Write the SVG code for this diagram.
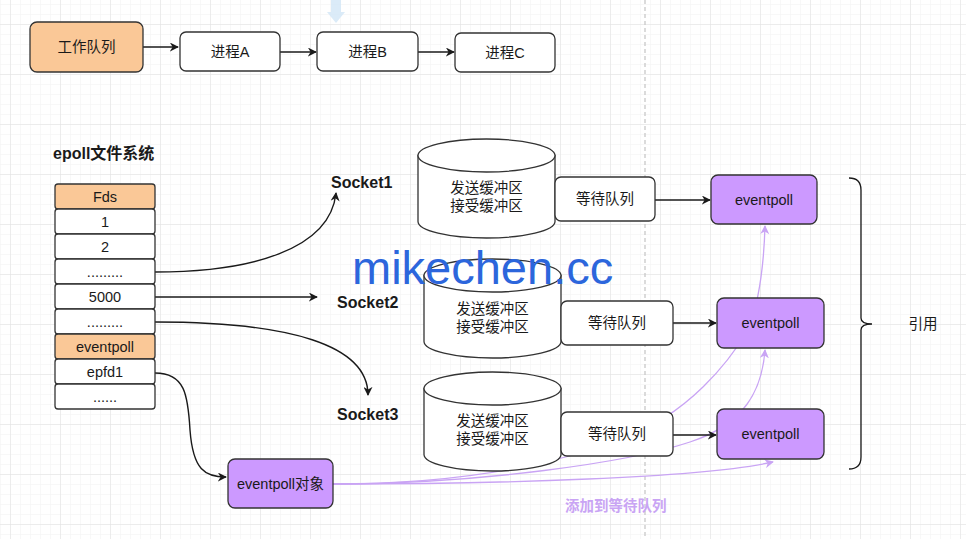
<svg xmlns="http://www.w3.org/2000/svg" width="966" height="539" viewBox="0 0 966 539">
<style>
  text { font-family: "Liberation Sans", "Noto Sans CJK SC", sans-serif; fill: #1a1a1a; }
  .t { font-size: 14.5px; text-anchor: middle; dominant-baseline: central; }
  .lbl { font-size: 16px; font-weight: bold; }
  .box { fill: #ffffff; stroke: #333333; stroke-width: 1.3; }
  .orange { fill: #FAC897; stroke: #333333; stroke-width: 1.3; }
  .purple { fill: #CC99FF; stroke: #333333; stroke-width: 1.3; }
  .edge { fill: none; stroke: #1a1a1a; stroke-width: 1.4; }
  .pedge { fill: none; stroke: #C9A4F4; stroke-width: 1.3; }
</style>
<defs>
  <pattern id="gMinor" width="10" height="10" patternUnits="userSpaceOnUse" x="0" y="4">
    <path d="M10 0 L0 0 L0 10" fill="none" stroke="#f2f2f2" stroke-width="1"/>
  </pattern>
  <pattern id="gMajor" width="50" height="50" patternUnits="userSpaceOnUse" x="10" y="24">
    <path d="M50 0 L0 0 L0 50" fill="none" stroke="#e0e0e0" stroke-width="1"/>
  </pattern>
  <marker id="arr" viewBox="0 0 10 10" refX="9" refY="5" markerWidth="9" markerHeight="9" markerUnits="userSpaceOnUse" orient="auto">
    <path d="M0 0 L10 5 L0 10 L3 5 Z" fill="#1a1a1a"/>
  </marker>
  <marker id="parr" viewBox="0 0 10 10" refX="9" refY="5" markerWidth="9" markerHeight="9" markerUnits="userSpaceOnUse" orient="auto">
    <path d="M0 0 L10 5 L0 10 L3 5 Z" fill="#C9A4F4"/>
  </marker>
</defs>

<!-- background grid -->
<rect x="0" y="0" width="966" height="539" fill="#ffffff"/>
<rect x="0" y="0" width="966" height="539" fill="url(#gMinor)"/>
<rect x="0" y="0" width="966" height="539" fill="url(#gMajor)"/>
<line x1="645" y1="0" x2="645" y2="539" stroke="#c8c8c8" stroke-width="1.3" stroke-dasharray="4 3"/>

<!-- faint blue arrow at top -->
<g id="blue-arrow" opacity="0.85">
  <rect x="331" y="0" width="10" height="12" fill="#d5e8f7"/>
  <polygon points="327,12 345,12 336,23" fill="#d5e8f7"/>
</g>

<!-- purple connectors (behind boxes) -->
<g id="purple-connectors">
  <path class="pedge" d="M333 484 C 470 484, 560 462, 620 440 C 690 414, 730 360, 748 330 C 760 300, 764 260, 765 226" marker-end="url(#parr)"/>
  <path class="pedge" d="M333 484 C 480 484, 630 462, 690 442 C 745 424, 762 390, 765 350" marker-end="url(#parr)"/>
  <path class="pedge" d="M333 484 C 500 484, 700 478, 773 462" marker-end="url(#parr)"/>
</g>

<!-- black connectors -->
<g id="connectors">
  <line class="edge" x1="143" y1="47" x2="178" y2="47" marker-end="url(#arr)"/>
  <line class="edge" x1="280" y1="52" x2="316" y2="52" marker-end="url(#arr)"/>
  <line class="edge" x1="418" y1="52" x2="454" y2="52" marker-end="url(#arr)"/>
  <path class="edge" d="M155 272 C 250 272, 330 250, 336 193" marker-end="url(#arr)"/>
  <line class="edge" x1="155" y1="297" x2="317" y2="297" marker-end="url(#arr)"/>
  <path class="edge" d="M155 322 C 290 322, 368 345, 368 395" marker-end="url(#arr)"/>
  <path class="edge" d="M155 373 C 185 373, 188 395, 190 430 C 193 470, 205 477, 226 477" marker-end="url(#arr)"/>
  <line class="edge" x1="655" y1="200" x2="710" y2="200" marker-end="url(#arr)"/>
  <line class="edge" x1="673" y1="323" x2="716" y2="323" marker-end="url(#arr)"/>
  <line class="edge" x1="673" y1="435" x2="716" y2="435" marker-end="url(#arr)"/>
</g>

<!-- top row -->
<g id="work-queue">
  <rect class="orange" x="30" y="22" width="113" height="50" rx="7"/>
  <text class="t" x="86.5" y="47">工作队列</text>
</g>
<g id="proc-a">
  <rect class="box" x="180" y="32" width="100" height="39" rx="6"/>
  <text class="t" x="230" y="52">进程A</text>
</g>
<g id="proc-b">
  <rect class="box" x="317" y="32" width="101" height="39" rx="6"/>
  <text class="t" x="367.5" y="52">进程B</text>
</g>
<g id="proc-c">
  <rect class="box" x="455" y="33" width="100" height="39" rx="6"/>
  <text class="t" x="505" y="53">进程C</text>
</g>

<!-- epoll file system table -->
<g id="title">
  <text class="lbl" x="53" y="159">epoll文件系统</text>
</g>
<g id="fds-table">
  <rect class="orange" x="55" y="184" width="100" height="25" rx="3"/>
  <text class="t" x="105" y="196.5">Fds</text>
  <rect class="box" x="55" y="209" width="100" height="25" rx="3"/>
  <text class="t" x="105" y="221.5">1</text>
  <rect class="box" x="55" y="234" width="100" height="25" rx="3"/>
  <text class="t" x="105" y="246.5">2</text>
  <rect class="box" x="55" y="259" width="100" height="25" rx="3"/>
  <text class="t" x="105" y="271.5">.........</text>
  <rect class="box" x="55" y="284" width="100" height="25" rx="3"/>
  <text class="t" x="105" y="296.5">5000</text>
  <rect class="box" x="55" y="309" width="100" height="25" rx="3"/>
  <text class="t" x="105" y="321.5">.........</text>
  <rect class="orange" x="55" y="334" width="100" height="25" rx="3"/>
  <text class="t" x="105" y="346.5">eventpoll</text>
  <rect class="box" x="55" y="359" width="100" height="25" rx="3"/>
  <text class="t" x="105" y="371.5">epfd1</text>
  <rect class="box" x="55" y="384" width="100" height="25" rx="3"/>
  <text class="t" x="105" y="396.5">......</text>
</g>

<!-- socket labels -->
<g id="socket1-label"><text class="lbl" x="331" y="188">Socket1</text></g>
<g id="socket2-label"><text class="lbl" x="337" y="308">Socket2</text></g>
<g id="socket3-label"><text class="lbl" x="337" y="420">Socket3</text></g>

<!-- cylinders -->
<g id="buffer1">
  <path class="box" d="M418 155.5 L418 221.5 A68.5 16.5 0 0 0 555 221.5 L555 155.5 Z"/>
  <ellipse class="box" cx="486.5" cy="155.5" rx="68.5" ry="16.5"/>
  <text class="t" x="486.5" y="188">发送缓冲区</text>
  <text class="t" x="486.5" y="206">接受缓冲区</text>
</g>
<g id="buffer2">
  <path class="box" d="M424 275.5 L424 341.5 A68.5 16.5 0 0 0 561 341.5 L561 275.5 Z"/>
  <ellipse class="box" cx="492.5" cy="275.5" rx="68.5" ry="16.5"/>
  <text class="t" x="492.5" y="309">发送缓冲区</text>
  <text class="t" x="492.5" y="327">接受缓冲区</text>
</g>
<g id="buffer3">
  <path class="box" d="M424 388.5 L424 454.5 A68.5 16.5 0 0 0 561 454.5 L561 388.5 Z"/>
  <ellipse class="box" cx="492.5" cy="388.5" rx="68.5" ry="16.5"/>
  <text class="t" x="492.5" y="421">发送缓冲区</text>
  <text class="t" x="492.5" y="439">接受缓冲区</text>
</g>

<!-- wait queues -->
<g id="waitq1">
  <rect class="box" x="555" y="177" width="100" height="44" rx="6"/>
  <text class="t" x="605" y="199">等待队列</text>
</g>
<g id="waitq2">
  <rect class="box" x="561" y="301" width="112" height="44" rx="6"/>
  <text class="t" x="617" y="323">等待队列</text>
</g>
<g id="waitq3">
  <rect class="box" x="561" y="412" width="112" height="44" rx="6"/>
  <text class="t" x="617" y="434">等待队列</text>
</g>

<!-- eventpoll boxes -->
<g id="eventpoll1">
  <rect class="purple" x="711" y="175" width="106" height="49" rx="7"/>
  <text class="t" x="764" y="199.5">eventpoll</text>
</g>
<g id="eventpoll2">
  <rect class="purple" x="717" y="298" width="107" height="50" rx="7"/>
  <text class="t" x="770.5" y="323">eventpoll</text>
</g>
<g id="eventpoll3">
  <rect class="purple" x="717" y="409" width="107" height="50" rx="7"/>
  <text class="t" x="770.5" y="434">eventpoll</text>
</g>
<g id="eventpoll-obj">
  <rect class="purple" x="228" y="459" width="105" height="49" rx="7"/>
  <text class="t" x="280.5" y="484">eventpoll对象</text>
</g>

<!-- brace and label -->
<g id="brace">
  <path d="M849 178 Q861 178 861 190 L861 318 Q861 324 872 324 Q861 324 861 330 L861 457 Q861 469 849 469" fill="none" stroke="#1a1a1a" stroke-width="1.3"/>
  <text class="t" x="923" y="324">引用</text>
</g>

<g id="add-label">
  <text x="565" y="511" style="font-size:14.5px;font-weight:bold;fill:#C9A4F4">添加到等待队列</text>
</g>

<!-- watermark -->
<g id="watermark">
  <text x="352" y="284" style="font-size:47px;fill:#2C66DC">mikechen.cc</text>
</g>
</svg>
